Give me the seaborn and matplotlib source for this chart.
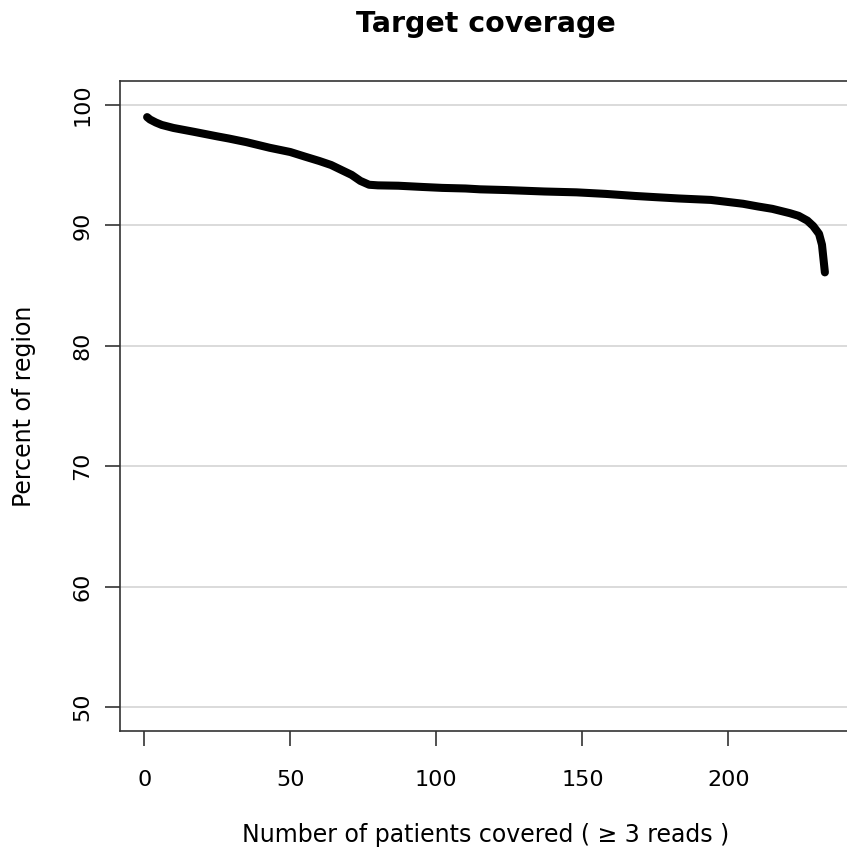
import pandas as pd
import seaborn as sns
import matplotlib.pyplot as plt

# values (patients sorted by coverage)
patients = [1, 2, 4, 6, 10, 17, 25, 29, 35, 43, 50, 55, 60, 64, 68, 71, 74,
            77, 80, 87, 95, 102, 110, 115, 124, 137, 148, 158, 168, 175, 183,
            194, 205, 210, 215, 221, 224, 227, 229, 231, 232, 233]
percent = [99.0, 98.8, 98.55, 98.35, 98.1, 97.78, 97.4, 97.22, 96.92, 96.45,
           96.1, 95.72, 95.35, 95.02, 94.55, 94.2, 93.7, 93.38, 93.33, 93.3,
           93.2, 93.12, 93.07, 93.0, 92.94, 92.82, 92.75, 92.62, 92.45, 92.35,
           92.24, 92.12, 91.8, 91.58, 91.38, 91.02, 90.8, 90.4, 89.95, 89.3,
           88.4, 86.1]
y_ticks = [50, 60, 70, 80, 90, 100]
x_ticks = [0, 50, 100, 150, 200]

df = pd.DataFrame({"patients": patients, "percent": percent})

sns.set_theme(style="white")
plt.rcParams["font.family"] = ["DejaVu Sans"]
plt.rcParams["text.color"] = "black"
plt.rcParams["axes.labelcolor"] = "black"
plt.rcParams["xtick.color"] = "black"
plt.rcParams["ytick.color"] = "black"

fig = plt.figure(figsize=(8.47, 8.49), dpi=100)
ax = fig.add_axes([120 / 847, 1 - 731 / 849, 732 / 847, 650 / 849])

for yv in y_ticks:
    ax.axhline(yv, color="#d4d4d4", lw=1.2, zorder=0)

sns.lineplot(data=df, x="patients", y="percent", ax=ax, color="black",
             lw=5.8, solid_capstyle="round", solid_joinstyle="round")

ax.set_xlim(-8.28, 242.28)
ax.set_ylim(48, 102)
ax.set_xticks(x_ticks)
ax.set_yticks(y_ticks)
ax.tick_params(axis="x", bottom=True, direction="out", length=11, width=1.2,
               color="#333333", pad=17, labelsize=16)
ax.tick_params(axis="y", left=True, direction="out", length=11, width=1.2,
               color="#333333", pad=9, labelsize=16)
for lab in ax.get_yticklabels():
    lab.set_rotation(90)
    lab.set_va("center")

for s in ax.spines.values():
    s.set_color("#333333")
    s.set_linewidth(1.2)

ax.set_xlabel("Number of patients covered ( \u2265 3 reads )", fontsize=17,
              labelpad=24)
ax.set_ylabel("Percent of region", fontsize=17, labelpad=26)
ax.set_title("Target coverage", fontsize=20.5, fontweight="bold", pad=35)

fig.savefig("out.png", dpi=100)
